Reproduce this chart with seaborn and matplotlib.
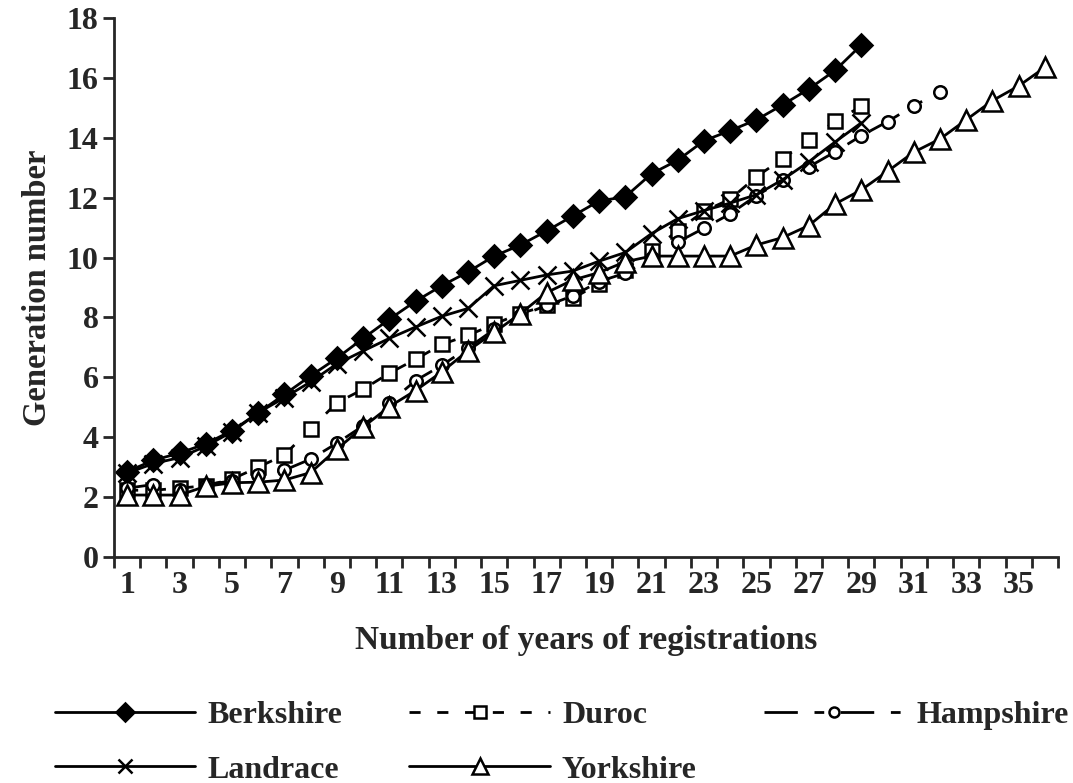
import numpy as np
import pandas as pd
import seaborn as sns
import matplotlib.pyplot as plt

# generation number by years of registration
berkshire = [2.85, 3.23, 3.47, 3.78, 4.22, 4.81, 5.43, 6.05, 6.64, 7.3, 7.94, 8.54,
             9.06, 9.52, 10.05, 10.42, 10.89, 11.39, 11.89, 12.03, 12.8, 13.25, 13.9,
             14.24, 14.6, 15.1, 15.63, 16.25, 17.1]
duroc = [2.23, 2.23, 2.3, 2.38, 2.6, 3.0, 3.41, 4.28, 5.15, 5.6, 6.14, 6.6, 7.1, 7.4,
         7.78, 8.13, 8.4, 8.64, 9.13, 9.6, 10.22, 10.9, 11.55, 11.95, 12.7, 13.3,
         13.93, 14.55, 15.05]
hampshire = [2.3, 2.42, 2.25, 2.42, 2.54, 2.75, 2.9, 3.27, 3.8, 4.38, 5.15, 5.89,
             6.4, 6.98, 7.6, 8.06, 8.4, 8.72, 9.2, 9.48, 10.0, 10.52, 10.98, 11.46,
             12.07, 12.58, 13.03, 13.53, 14.07, 14.54, 15.07, 15.53]
landrace = [2.8, 3.12, 3.32, 3.7, 4.18, 4.82, 5.32, 5.85, 6.45, 6.88, 7.3, 7.68,
            8.04, 8.3, 9.06, 9.24, 9.42, 9.55, 9.88, 10.17, 10.8, 11.3, 11.57, 11.82,
            12.1, 12.6, 13.2, 13.86, 14.5]
yorkshire = [2.07, 2.07, 2.07, 2.36, 2.48, 2.5, 2.57, 2.82, 3.6, 4.34, 5.02, 5.56,
             6.18, 6.89, 7.5, 8.13, 8.83, 9.25, 9.5, 9.86, 10.05, 10.05, 10.05, 10.05,
             10.42, 10.67, 11.07, 11.79, 12.26, 12.88, 13.52, 13.96, 14.6, 15.24,
             15.73, 16.35]

series = {"Berkshire": berkshire, "Duroc": duroc, "Hampshire": hampshire,
          "Landrace": landrace, "Yorkshire": yorkshire}

styles = {
    "Berkshire": dict(marker="D", ms=11, mfc="black", linestyle="-"),
    "Duroc": dict(marker="s", ms=10, mfc="white", linestyle=(0, (4, 6))),
    "Hampshire": dict(marker="o", ms=9, mfc="white", linestyle=(0, (12, 6, 3.5, 6))),
    "Landrace": dict(marker="x", ms=13, mfc="black", linestyle="-"),
    "Yorkshire": dict(marker="^", ms=14, mfc="white", linestyle="-"),
}

sns.set_style("ticks")
plt.rcParams["font.family"] = ["Liberation Serif", "DejaVu Serif"]
plt.rcParams["font.weight"] = "bold"

fig = plt.figure(figsize=(10.73, 7.83), dpi=100)
ax = fig.add_axes([0.1062, 0.2886, 0.8798, 0.6884])

lines = {}
for name, vals in series.items():
    df = pd.DataFrame({"year": np.arange(1, len(vals) + 1), "gen": vals})
    st = styles[name]
    sns.lineplot(data=df, x="year", y="gen", ax=ax, color="black", lw=2,
                 marker=st["marker"], ms=st["ms"], mfc=st["mfc"], mec="black",
                 mew=1.8, linestyle=st["linestyle"], label=name, clip_on=False)
    lines[name] = ax.get_lines()[-1]

ax.set_xlim(0.5, 36.5)
ax.set_ylim(0, 18)
ax.set_xticks(np.arange(1, 36, 2))
ax.set_xticks(np.arange(0.5, 37, 1), minor=True)
ax.set_yticks(np.arange(0, 19, 2))
ax.tick_params(axis="x", which="major", length=0, labelsize=23, pad=10)
ax.tick_params(axis="x", which="minor", length=8, width=2, direction="out")
ax.tick_params(axis="y", length=8, width=2, labelsize=23, pad=3)
for lab in ax.get_xticklabels() + ax.get_yticklabels():
    lab.set_fontweight("bold")

sns.despine(ax=ax)
for sp in ["left", "bottom"]:
    ax.spines[sp].set_linewidth(2)

ax.set_xlabel("Number of years of registrations", fontsize=24, fontweight="bold", labelpad=18)
ax.set_ylabel("Generation number", fontsize=23.5, fontweight="bold", labelpad=10)

ax.get_legend().remove()
order = ["Berkshire", "Landrace", "Duroc", "Yorkshire", "Hampshire"]
fig.legend([lines[n] for n in order], order, loc="upper left",
           bbox_to_anchor=(0.039, 0.121), ncol=3, frameon=False,
           prop={"family": "Liberation Serif", "weight": "bold", "size": 23},
           handlelength=4.4, handletextpad=0.38, columnspacing=2.1,
           labelspacing=0.78, borderaxespad=0, markerscale=0.8)

fig.savefig("out.png", dpi=100)
